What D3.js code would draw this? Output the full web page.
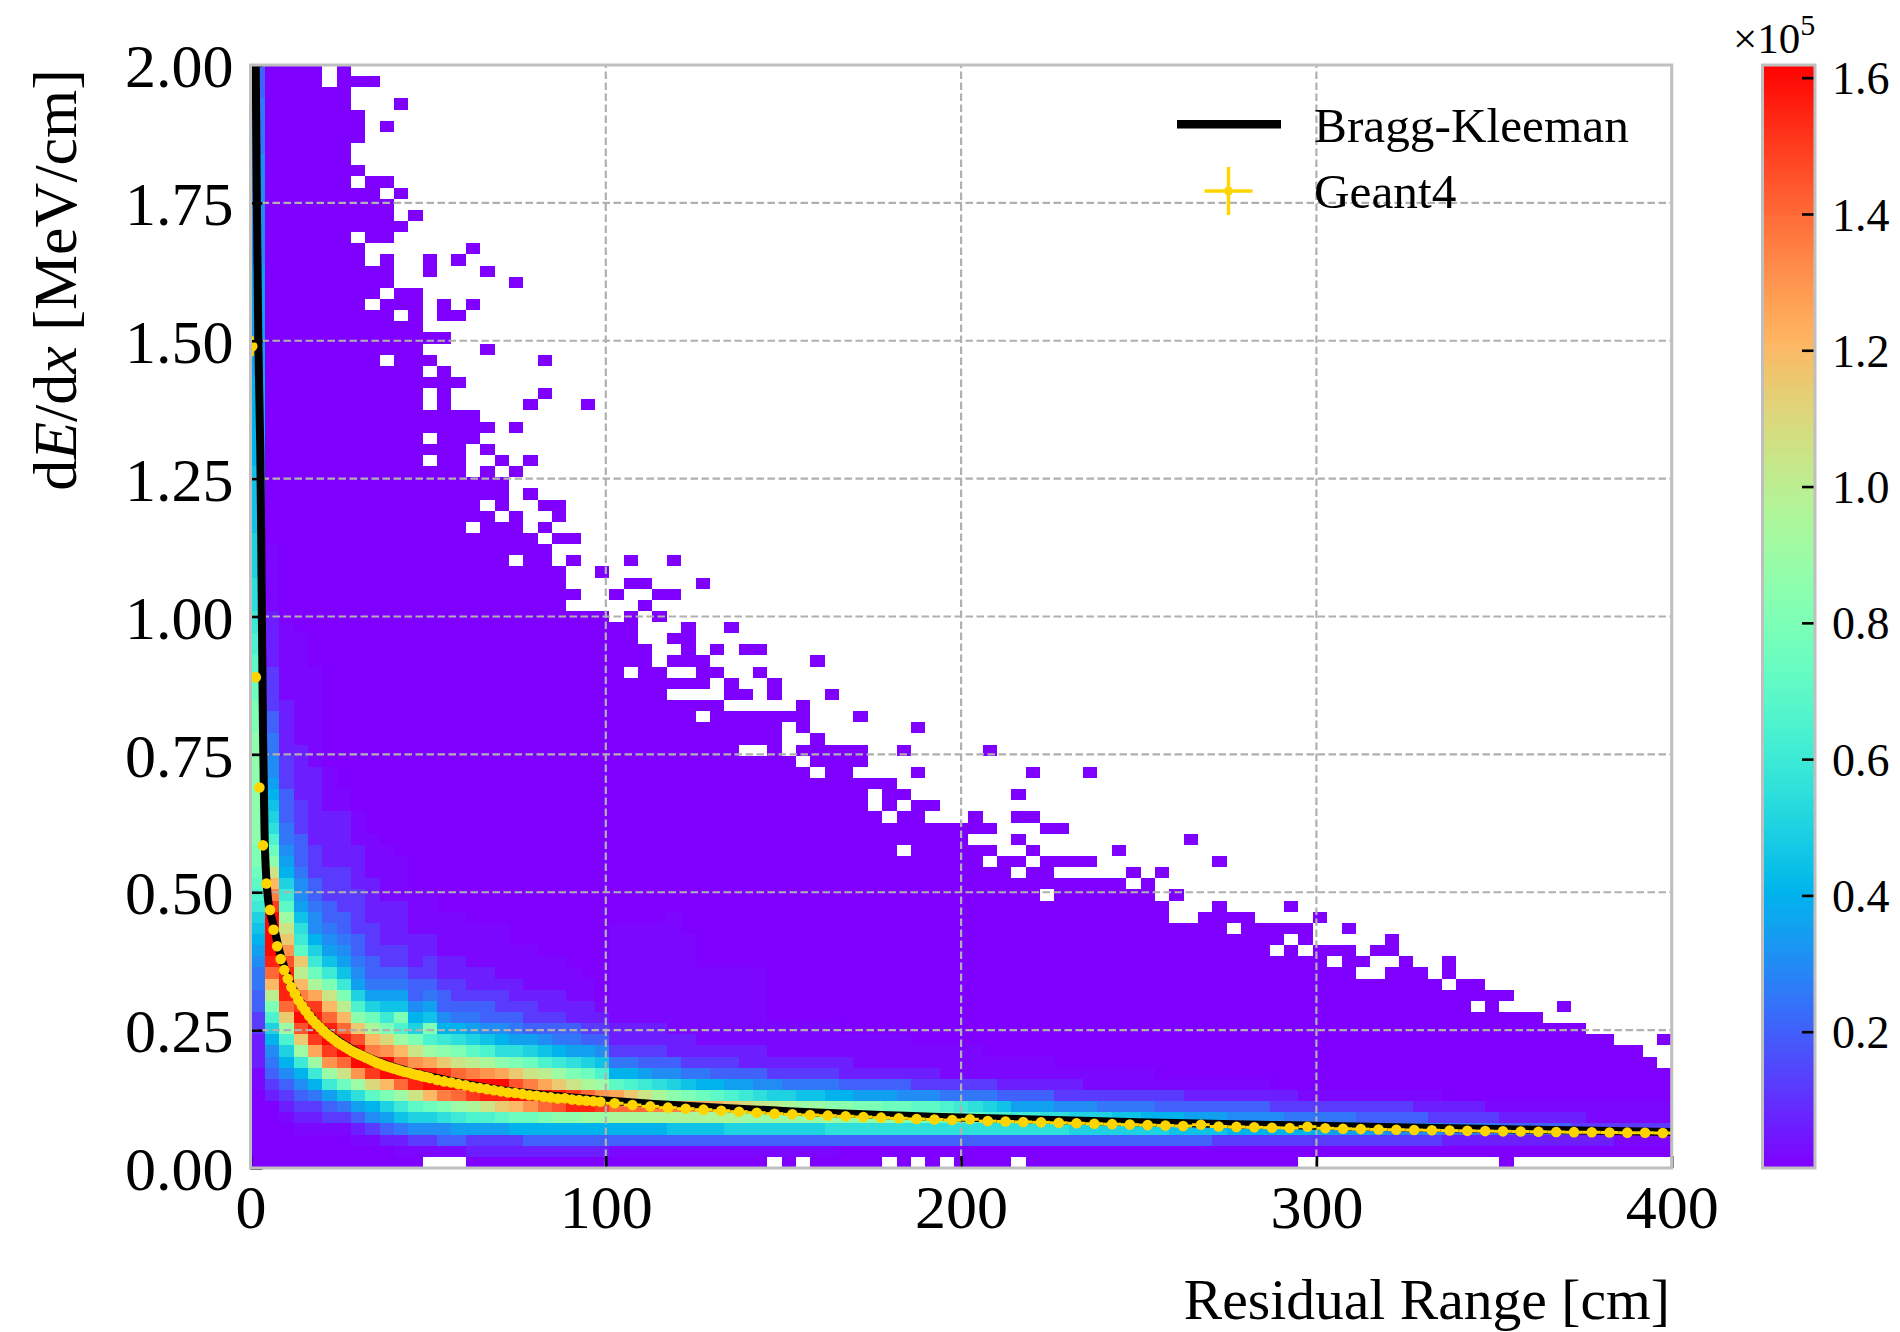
<!DOCTYPE html>
<html>
<head>
<meta charset="utf-8">
<script src="https://cdn.jsdelivr.net/npm/d3@7/dist/d3.min.js"></script>
<style>
html,body{margin:0;padding:0;background:#fff}
svg{display:block}
text{font-family:"Liberation Serif",serif;fill:#000}
</style>
</head>
<body>
<svg id="c" width="1900" height="1332"></svg>
<script>
// ---- tick labels and text
const xTicks=[0,100,200,300,400];
const yTicks=[0,0.25,0.5,0.75,1,1.25,1.5,1.75,2];
const xGrid=[100,200,300];
const yGrid=[0.25,0.5,0.75,1,1.25,1.5,1.75];
const cbarTicks=[20000,40000,60000,80000,100000,120000,140000,160000];
const legendNames=["Bragg-Kleeman","Geant4"];
const X_BINS=99,Y_BINS=99,COUNT_MAX=161860,LEVEL=5000;
const faintLevelCounts=[0,1500,6000,12000];

// ---- histogram counts: one string per residual-range bin, first char = lowest dE/dx bin.
// Each char is a base-36 level (level x 5000 entries; faint levels from the table above).
const bandColumns=[
"000000011222334455678 9acdefgghhhhhhhhhhgggffeeddccbbbaaaa99999988888888777777777766666666665555 5444",
"000000234568adgkosvwwwwurolhfdba987665544333322222111111",
"00001234 68adinsvvvtqnlieca87655444333222221111111",
"00012346 8cintwuroknecb97665444333222221111111111",
"0001235 8cipuwvupjfca8665443332222222111111111",
"0001347ciquwvsolgc976544333222221111",
"000135 9flswvsokgc9765443333222221 1",
"00124 7biqwwtnhda765443333222211 1",
"00136 8emuwroj fa75443332222111 1",
"00247 agowwqmgc97543322221 1111",
"01259ciswsoidg975433222211 11",
"0136aelvwqlga86443222 1111",
"0136afowvpidg975433221111",
"0146bgrwunhc864432211 11",
"0147cisw slgb854332211 11",
"0237djuwrkea754322 1111",
"0237dlvwqjd9644322 1111",
"0237envwphb864332 11111",
"0238fowtngb75432 21 11",
"0248fqwrlfa74 3321111",
"0248gswpkd9643221 11",
"0248htvnic85432211 1",
"0248hvulgb7542211 1",
"0248ivsjfa74322 11",
"0248iuqid96432 1",
"0148jspe85322111111111",
"0148jsnd85322111111111",
"0148jslc74322111111111",
"0148jrjb64322111111111",
"0149jrha642211111111111",
"0149jqg95322111111111",
"0149jpf85321111111",
"0149joe84321111111",
"014ajnd74321111111",
"014aimc7422111 1111",
"014ailb642211111 11",
"014aika6321 11",
"014aija5321 11",
"014aii95321 11",
"014aii95321 11",
"014bih85321 11",
"004bhh84221 1",
"004bhg74211 1",
"004bhg74211 1",
"004bhf74211 1",
"004bgf64211 1",
"004bge6321 1",
"004bfe6321 1",
"004bfd5311 1",
"004bec5311 1",
"004beb5311 1",
"004bda531 1",
"004bd9421 1",
"004bc7421 1",
"004bc7421 1",
"004bb7421 1",
"004bb6321",
"004aa6321",
"004aa6311",
"004aa5311",
"004a95311",
"004a95311",
"004a85311",
"004a8431",
"00498431",
"00497421",
"00497421",
"00397421",
"00386421",
"00386421",
"00386421",
"0038632",
"0038532",
"0038531",
"0038531",
"0037531",
"0037531",
"0037431",
"0037431",
"0036431",
"0036431",
"0036421",
"0036321",
"002532",
"002532",
"002532",
"002531",
"002421",
"002421",
"002421",
"002421",
"002421",
"002321",
"002311",
"002311",
"001311",
"001311",
"001311",
"001311"
].map(s=>s.replace(/ /g,""));

// ---- occupied cells per dE/dx row, top row first: [last contiguous bin, empty bins, isolated bins]
const occupancy=[
[6,[5]],[8,[5]],[6],[6,[],[10]],[7],[7,[],[9]],[7],[6],[6],[7],
[9,[7]],[10,[9]],[9],[9,[],[11]],[10],[9,[7]],[7,[],[15]],[9,[8],[12,14]],[9,[],[12,16]],[9,[],[18]],
[11,[9]],[11,[8],[13,15]],[11,[10],[13,14]],[11],[13],[11,[],[16]],[12,[9],[20]],[13,[12]],[14],[13,[12],[20]],
[13,[12],[19,23]],[15],[16,[],[18]],[15,[12]],[14,[],[16]],[14,[12],[17,19]],[14,[],[16,18]],[17],[17,[],[19]],[17,[16],[20,21]],
[18,[17],[21]],[18,[15],[20]],[22,[20]],[20],[20,[18],[22,26,29]],[21,[],[24]],[21,[],[26,27,31]],[22,[],[25,28,29]],[21,[],[27]],[24,[],[26,28]],
[26,[],[30,33]],[26,[],[29,30]],[27,[],[30,32,34,35]],[27,[],[29,30,31,39]],[32,[26,29,30],[35]],[31,[],[33,36]],[28,[],[33,34,36,40]],[32,[],[38]],[38,[31],[42]],[36,[],[38,46]],
[36,[],[39]],[42,[34,35,37],[45,51]],[42,[38]],[41,[39],[46,54,58]],[44],[45,[43],[53]],[47,[43,45]],[46,[44],[50,53,54]],[51,[],[55,56]],[49,[],[53,65]],
[51,[45],[54,60]],[58,[51,54],[67]],[55,[53],[61,63]],[62,[61]],[62,[55],[64]],[63,[],[67,72]],[69,[64,65],[74]],[73,[68],[76]],[73,[72],[79]],[79,[71,73,77]],
[77,[75],[80,83]],[76,[],[79,80,81,83]],[85,[83]],[87],[86,[85],[91]],[89],[92],[94,[],[98]],[96],[97],
[98],[98],[98],[98],[98],[98],[98],[98],[72,[12,13,14,36,38,44,46,48,53],[87]]
];

// ---- Geant4 points
const geantR=[0.5,1.5,2.5,3.5,4.5,5.5,6.5,7.5,8.5,9.5,10.5,11.5,12.5,13.5,14.5,15.5,16.5,17.5,18.5,19.5,20.5,21.5,22.5,23.5,24.5,25.5,26.5,27.5,28.5,29.5,30.5,31.5,32.5,33.5,34.5,35.5,36.5,37.5,38.5,39.5,40.5,41.5,42.5,43.5,44.5,45.5,46.5,47.5,48.5,49.5,50.5,
52.5,54.5,56.5,58.5,60.5,62.5,64.5,66.5,68.5,70.5,72.5,74.5,76.5,78.5,80.5,82.5,84.5,86.5,88.5,90.5,92.5,94.5,96.5,98.5,
102.5,107.5,112.5,117.5,122.5,127.5,132.5,137.5,142.5,147.5,152.5,157.5,162.5,167.5,172.5,177.5,182.5,187.5,192.5,197.5,202.5,207.5,212.5,217.5,222.5,227.5,232.5,237.5,242.5,247.5,252.5,257.5,262.5,267.5,272.5,277.5,282.5,287.5,292.5,297.5,302.5,307.5,312.5,317.5,322.5,327.5,332.5,337.5,342.5,347.5,352.5,357.5,362.5,367.5,372.5,377.5,382.5,387.5,392.5,397.5];
const geantDEdx=[1.49,0.89,0.69,0.585,0.516,0.468,0.432,0.402,0.379,0.359,0.343,0.328,0.316,0.304,0.294,0.285,0.276,0.268,0.261,0.255,0.249,0.243,0.238,0.233,0.228,0.224,0.220,0.216,0.212,0.209,0.206,0.203,0.200,0.197,0.194,0.191,0.189,0.186,0.184,0.182,0.180,0.178,0.176,0.174,0.173,0.171,0.169,0.168,0.166,0.165,0.163,
0.1596,0.157,0.155,0.152,0.150,0.147,0.145,0.143,0.141,0.139,0.137,0.136,0.134,0.132,0.131,0.129,0.128,0.126,0.1265,0.124,0.123,0.122,0.121,0.120,
0.1173,0.1142,0.1117,0.1094,0.1075,0.1058,0.1039,0.1021,0.1003,0.0985,0.0973,0.0961,0.0949,0.0937,0.0925,0.0913,0.0901,0.0889,0.0880,0.0870,0.0883,0.0850,0.0843,0.0835,0.0828,0.0820,0.0811,0.0803,0.0795,0.0787,0.0778,0.0770,0.0762,0.0785,0.0752,0.0745,0.0738,0.0731,0.0726,0.0749,0.0720,0.0712,0.0705,0.0699,0.0694,0.0689,0.0684,0.0679,0.0674,0.0669,0.0665,0.0661,0.0657,0.0653,0.0650,0.0647,0.0644,0.0641,0.0638,0.0635];
const geantRerr=geantR.map(r=>r<51?0.5:r<100?1:2.5);
const geantYerr=geantR.map((r,i)=>i===0?0.018:i===1?0.008:i<6?0.004:0.002);

// ---- Bragg-Kleeman curve
const braggR=[1.47,2.2,2.76,3.2,3.5,3.85,4.08,4.55,5.3,6.5,8.5,11.5,15.5,20.5,30.5,40.5,50.5,70,100,150,200,250,300,350,400];
const braggDEdx=[2.0,1.5,1.3,1.0,0.8,0.65,0.577,0.516,0.47,0.44,0.385,0.331,0.288,0.252,0.209,0.183,0.166,0.142,0.1225,0.1035,0.0915,0.083,0.0765,0.0705,0.0655];

// ---- layout
const L=250.5,R=1671.7,T=65,B=1168;
const CB_L=1762.5,CB_R=1815;
const svg=d3.select("#c");
const x=d3.scaleLinear().domain([0,400]).range([L,R]);
const y=d3.scaleLinear().domain([0,2]).range([B,T]);
const cy=d3.scaleLinear().domain([0,COUNT_MAX]).range([B,T]);
const rainbow=t=>{
  const c=v=>Math.round(255*Math.max(0,Math.min(1,v)));
  return d3.rgb(c(Math.abs(2*t-0.5)),c(Math.sin(Math.PI*t)),c(Math.cos(Math.PI*t/2))).formatHex();
};
const color=d3.scaleSequential(rainbow).domain([0,COUNT_MAX]);
const xEdges=d3.range(X_BINS+1).map(i=>i*400/X_BINS);
const yEdges=d3.range(Y_BINS+1).map(i=>i*2/Y_BINS);

// clip
svg.append("defs").append("clipPath").attr("id","plot").append("rect")
  .attr("x",L).attr("y",T).attr("width",R-L).attr("height",B-T);

// ---- heatmap
const cells=[];
occupancy.forEach((o,t)=>{
  const [last,holes=[],extras=[]]=o;
  const used=new Set(d3.range(last+1).filter(c=>!holes.includes(c)).concat(extras));
  const r=Y_BINS-1-t;
  used.forEach(c=>{
    const s=bandColumns[c]||"";
    const lv=r<s.length?parseInt(s[r],36):0;
    cells.push({c,r,v:lv<faintLevelCounts.length?faintLevelCounts[lv]:lv*LEVEL});
  });
});
const plot=svg.append("g").attr("clip-path","url(#plot)");
plot.append("g").attr("shape-rendering","crispEdges").selectAll("rect").data(cells).join("rect")
  .attr("x",d=>x(xEdges[d.c])).attr("width",d=>x(xEdges[d.c+1])-x(xEdges[d.c]))
  .attr("y",d=>y(yEdges[d.r+1])).attr("height",d=>y(yEdges[d.r])-y(yEdges[d.r+1]))
  .attr("fill",d=>color(d.v));

// ---- grid
const GRID="#b0b0b0";
plot.append("g").selectAll("line").data(xGrid).join("line")
  .attr("x1",d=>x(d)).attr("x2",d=>x(d)).attr("y1",B).attr("y2",T)
  .attr("stroke",GRID).attr("stroke-width",2.2).attr("stroke-dasharray","7.5,3.5");
plot.append("g").selectAll("line").data(yGrid).join("line")
  .attr("y1",d=>y(d)).attr("y2",d=>y(d)).attr("x1",L).attr("x2",R)
  .attr("stroke",GRID).attr("stroke-width",2.2).attr("stroke-dasharray","7.5,3.5");

// ---- axes
const tickFont=62;
const xAxis=d3.axisBottom(x).tickValues(xTicks).tickFormat(d3.format("d")).tickSizeInner(-12).tickSizeOuter(0).tickPadding(16);
const gx=svg.append("g").attr("transform",`translate(0,${B})`).call(xAxis);
const yAxis=d3.axisLeft(y).tickValues(yTicks).tickFormat(d3.format(".2f")).tickSizeInner(-12).tickSizeOuter(0).tickPadding(17);
const gy=svg.append("g").attr("transform",`translate(${L},0)`).call(yAxis);
[gx,gy].forEach(g=>{
  g.select(".domain").remove();
  g.selectAll("text").attr("font-size",tickFont).style("font-family",'"Liberation Serif",serif');
  g.selectAll("line").attr("stroke","#000").attr("stroke-width",2.6);
});
gy.selectAll("text").attr("dy","0.35em");

// ---- Bragg-Kleeman + Geant4
const bkLine=d3.line().x((d,i)=>x(braggR[i])).y((d,i)=>y(braggDEdx[i])).curve(d3.curveCatmullRom.alpha(0.5));
const GOLD="#ffd500";
plot.append("path").datum(braggR).attr("d",bkLine).attr("fill","none").attr("stroke","#000").attr("stroke-width",8);
const gg=plot.append("g");
gg.selectAll("line.h").data(geantR).join("line").attr("class","h")
  .attr("x1",(d,i)=>x(d-geantRerr[i])).attr("x2",(d,i)=>x(d+geantRerr[i]))
  .attr("y1",(d,i)=>y(geantDEdx[i])).attr("y2",(d,i)=>y(geantDEdx[i]))
  .attr("stroke",GOLD).attr("stroke-width",3);
gg.selectAll("line.v").data(geantR).join("line").attr("class","v")
  .attr("x1",d=>x(d)).attr("x2",d=>x(d))
  .attr("y1",(d,i)=>y(geantDEdx[i]-geantYerr[i])).attr("y2",(d,i)=>y(geantDEdx[i]+geantYerr[i]))
  .attr("stroke",GOLD).attr("stroke-width",3);
gg.selectAll("circle").data(geantR).join("circle")
  .attr("cx",d=>x(d)).attr("cy",(d,i)=>y(geantDEdx[i])).attr("r",5.3).attr("fill",GOLD);

// ---- spines
const SPINE="#bfbfbf";
svg.append("rect").attr("x",L).attr("y",T).attr("width",R-L).attr("height",B-T)
  .attr("fill","none").attr("stroke",SPINE).attr("stroke-width",3);

// ---- axis labels
svg.append("text").attr("x",1670).attr("y",1319).attr("text-anchor","end").attr("font-size",57.6).text("Residual Range [cm]");
const yl=svg.append("text").attr("transform","translate(76,69) rotate(-90)").attr("text-anchor","end").attr("font-size",62);
yl.append("tspan").text("d");
yl.append("tspan").attr("font-style","italic").text("E");
yl.append("tspan").text("/d");
yl.append("tspan").attr("font-style","italic").text("x");
yl.append("tspan").text(" [MeV/cm]");

// ---- legend
svg.append("line").attr("x1",1177).attr("x2",1281).attr("y1",124.3).attr("y2",124.3).attr("stroke","#000").attr("stroke-width",8.5);
svg.append("line").attr("x1",1204.5).attr("x2",1252.5).attr("y1",191).attr("y2",191).attr("stroke",GOLD).attr("stroke-width",3.5);
svg.append("line").attr("x1",1228.5).attr("x2",1228.5).attr("y1",167).attr("y2",215).attr("stroke",GOLD).attr("stroke-width",3.5);
svg.append("circle").attr("cx",1228.5).attr("cy",191).attr("r",4.5).attr("fill",GOLD);
svg.selectAll("text.leg").data(legendNames).join("text").attr("class","leg")
  .attr("x",1314).attr("y",(d,i)=>[142,208][i]).attr("font-size",49.3).text(d=>d);

// ---- colorbar
const cbSteps=d3.range(0,COUNT_MAX,COUNT_MAX/300);
svg.append("g").attr("shape-rendering","crispEdges").selectAll("rect").data(cbSteps).join("rect")
  .attr("x",CB_L).attr("width",CB_R-CB_L)
  .attr("y",d=>cy(d+COUNT_MAX/300)).attr("height",d=>cy(d)-cy(d+COUNT_MAX/300)+0.6)
  .attr("fill",d=>color(d));
const cbAxis=d3.axisRight(cy).tickValues(cbarTicks).tickFormat(d=>(d/1e5).toFixed(1)).tickSizeInner(-13).tickSizeOuter(0).tickPadding(17);
const gc=svg.append("g").attr("transform",`translate(${CB_R},0)`).call(cbAxis);
gc.select(".domain").remove();
gc.selectAll("text").attr("font-size",46).style("font-family",'"Liberation Serif",serif').attr("dy","0.35em");
gc.selectAll("line").attr("stroke","#000").attr("stroke-width",2.6);
svg.append("rect").attr("x",CB_L).attr("y",T).attr("width",CB_R-CB_L).attr("height",B-T)
  .attr("fill","none").attr("stroke",SPINE).attr("stroke-width",3);
const off=svg.append("text").attr("x",1733).attr("y",53).attr("font-size",43);
off.append("tspan").text("×10");
off.append("tspan").attr("font-size",30).attr("dy",-18).text("5");
</script>
</body>
</html>
